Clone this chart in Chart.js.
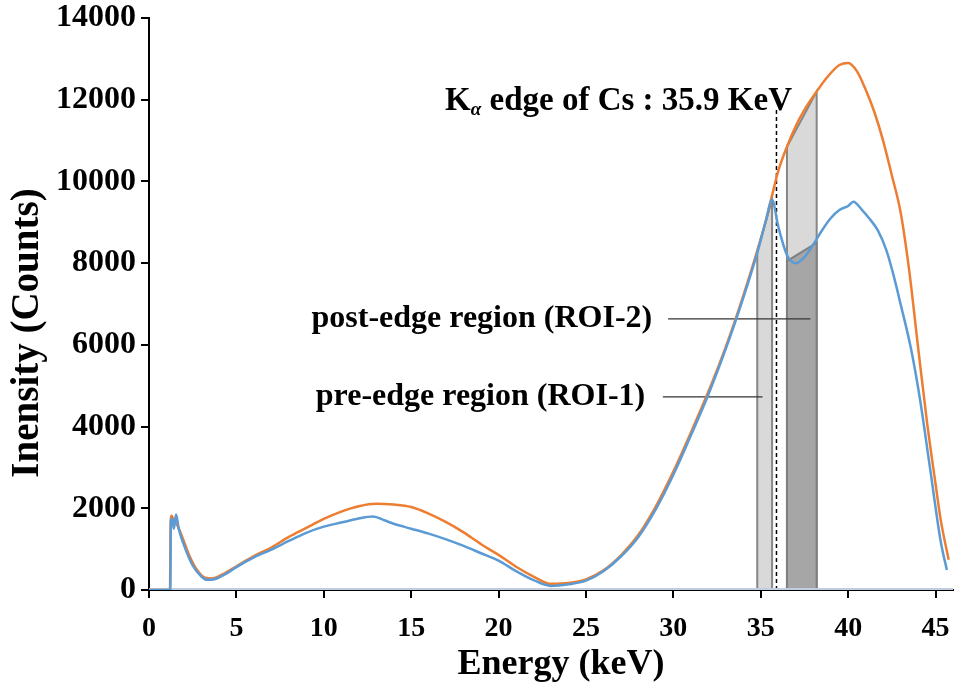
<!DOCTYPE html>
<html>
<head>
<meta charset="utf-8">
<script src="https://cdn.jsdelivr.net/npm/chart.js@4.4.1/dist/chart.umd.min.js"></script>
<style>
  body { margin: 0; background: #fff; }
  canvas { display: block; }
</style>
</head>
<body>
<canvas id="spectrum" width="955" height="690"></canvas>
<script>
// spectrum (energy in keV, intensity in counts)
const energyOrange = [0, 1.2, 1.24, 1.3, 1.4, 1.6, 1.9, 2.3, 2.7, 3.2, 3.6, 4.2, 5, 6, 7, 8, 9, 10, 11, 12,
  13, 14, 15, 16, 17, 18, 19, 20, 21, 22, 23, 24, 25, 26, 27, 28, 29, 30, 31, 32,
  33, 34, 34.8, 35.3, 35.7, 36.0, 36.5, 37.0, 37.5, 38.2, 38.8, 39.5, 40.0, 40.5, 41.0, 41.5, 42.0, 42.5, 43.0, 43.5,
  44.0, 44.5, 45.0, 45.3, 45.75];
const countsOrange = [0, 0, 1650, 1820, 1720, 1600, 1300, 850, 520, 300, 280, 380, 580, 830, 1040, 1300, 1520, 1740, 1920, 2050,
  2110, 2090, 2030, 1870, 1660, 1410, 1120, 860, 570, 330, 150, 170, 260, 480, 850, 1350, 2050, 2900, 3850, 4850,
  5950, 7200, 8300, 9050, 9750, 10250, 10850, 11350, 11750, 12200, 12550, 12850, 12900, 12700, 12250, 11700, 11000, 10150, 9250, 7800,
  5950, 4150, 2600, 1710, 740];

const energyBlue = [0, 1.22, 1.25, 1.32, 1.42, 1.55, 1.7, 2.0, 2.5, 3.0, 3.3, 3.8, 4.5, 5, 6, 7, 8, 9, 10, 11,
  12, 12.8, 13.5, 14, 15, 16, 17, 18, 19, 20, 21, 22, 23, 24, 25, 26, 27, 28, 29, 30,
  31, 32, 33, 34, 34.8, 35.3, 35.65, 36.0, 36.5, 37.0, 37.5, 38.0, 38.5, 39.0, 39.5, 40.0, 40.3, 40.8, 41.2, 41.7,
  42.2, 42.6, 43.0, 43.6, 44.1, 44.7, 45.3, 45.65];
const countsBlue = [0, 0, 1700, 1750, 1500, 1850, 1500, 1100, 600, 330, 250, 270, 420, 560, 800, 990, 1200, 1400, 1550, 1650,
  1750, 1800, 1700, 1620, 1500, 1380, 1240, 1080, 900, 720, 460, 240, 100, 140, 230, 460, 820, 1300, 1980, 2820,
  3780, 4780, 5900, 7150, 8250, 9050, 9550, 8900, 8200, 8000, 8150, 8450, 8800, 9100, 9300, 9400, 9500, 9300, 9100, 8800,
  8300, 7700, 7000, 5900, 4700, 2940, 1180, 490];

// regions of interest
const roi1Energy = [34.8, 34.8, 35.65, 35.65];
const roi1Counts = [0, 8300, 9550, 0];
const roi2Energy = [36.5, 36.5, 38.2, 38.2];
const roi2Counts = [0, 10850, 12200, 0];
const roi2LowCounts = [0, 8050, 8500, 0];

// K-alpha edge marker and leader lines
const edgeEnergy = [35.9, 35.9];
const edgeCounts = [0, 11750];
const postLeaderEnergy = [29.7, 37.84];
const postLeaderCounts = [6634, 6634];
const preLeaderEnergy = [29.4, 35.1];
const preLeaderCounts = [4725, 4725];

const xTicks = [0, 5, 10, 15, 20, 25, 30, 35, 40, 45];

function pts(xs, ys) {
  return xs.map((x, i) => ({ x: x, y: ys[i] }));
}

const serif = '"Liberation Serif", "Times New Roman", serif';

const labelsPlugin = {
  id: 'labels',
  afterDraw(chart) {
    const ctx = chart.ctx;
    const xs = chart.scales.x, ys = chart.scales.y;
    ctx.save();
    ctx.fillStyle = '#000';
    ctx.textBaseline = 'middle';
    ctx.textAlign = 'right';
    ctx.font = 'bold 32px ' + serif;
    ctx.fillText('post-edge region (ROI-2)', xs.getPixelForValue(28.79), ys.getPixelForValue(6634));
    ctx.fillText('pre-edge region (ROI-1)', xs.getPixelForValue(28.39), ys.getPixelForValue(4725));

    // K alpha edge label
    ctx.textAlign = 'left';
    ctx.textBaseline = 'alphabetic';
    let x = xs.getPixelForValue(16.94);
    const y = ys.getPixelForValue(11750);
    ctx.font = 'bold 33px ' + serif;
    ctx.fillText('K', x, y);
    x += ctx.measureText('K').width;
    ctx.font = 'italic bold 19px ' + serif;
    ctx.fillText('\u03b1', x, y + 5);
    x += ctx.measureText('\u03b1').width;
    ctx.font = 'bold 33px ' + serif;
    ctx.fillText(' edge of Cs : 35.9 KeV', x, y);

    // axis titles
    ctx.textAlign = 'center';
    ctx.textBaseline = 'middle';
    ctx.font = 'bold 36px ' + serif;
    ctx.fillText('Energy (keV)', 561, 665);
    ctx.translate(28, 333);
    ctx.rotate(-Math.PI / 2);
    ctx.font = 'bold 39px ' + serif;
    ctx.fillText('Inensity (Counts)', 0, 0);
    ctx.restore();
  }
};

new Chart(document.getElementById('spectrum'), {
  type: 'line',
  data: {
    datasets: [
      { data: pts(energyBlue, countsBlue), borderColor: '#5B9BD5', borderWidth: 2.5,
        pointRadius: 0, cubicInterpolationMode: 'monotone', order: 1 },
      { data: pts(energyOrange, countsOrange), borderColor: '#ED7D31', borderWidth: 2.5,
        pointRadius: 0, cubicInterpolationMode: 'monotone', order: 2 },
      { data: pts([0, 46], [0, 0]), borderColor: '#c3cddd', borderWidth: 4,
        pointRadius: 0, order: 3 },
      { data: pts(edgeEnergy, edgeCounts), borderColor: '#000', borderWidth: 1.5,
        borderDash: [4, 3], pointRadius: 0, order: 4 },
      { data: pts(postLeaderEnergy, postLeaderCounts), borderColor: '#333', borderWidth: 1.2,
        pointRadius: 0, order: 4 },
      { data: pts(preLeaderEnergy, preLeaderCounts), borderColor: '#333', borderWidth: 1.2,
        pointRadius: 0, order: 4 },
      { data: pts(roi2Energy, roi2LowCounts), borderColor: '#7f7f7f', backgroundColor: '#a6a6a6',
        borderWidth: 2, fill: 'origin', tension: 0, pointRadius: 0, order: 5 },
      { data: pts(roi2Energy, roi2Counts), borderColor: '#868686', backgroundColor: '#d9d9d9',
        borderWidth: 2, fill: 'origin', tension: 0, pointRadius: 0, order: 6 },
      { data: pts(roi1Energy, roi1Counts), borderColor: '#868686', backgroundColor: '#d9d9d9',
        borderWidth: 2, fill: 'origin', tension: 0, pointRadius: 0, order: 6 }
    ]
  },
  options: {
    responsive: false,
    animation: false,
    layout: { padding: { left: 0, right: 2, top: 18, bottom: 0 } },
    plugins: { legend: { display: false }, tooltip: { enabled: false } },
    scales: {
      x: {
        type: 'linear', min: 0, max: 46, z: 1,
        afterBuildTicks(s) { s.ticks = xTicks.map(v => ({ value: v })); },
        afterFit(s) { s.height = 100; s.paddingLeft = 0; s.paddingRight = 0; },
        ticks: { color: '#000', padding: 14, maxRotation: 0, autoSkip: false,
          font: { family: serif, size: 28, weight: 'bold' } },
        grid: { drawOnChartArea: false, tickLength: 8, color: '#000', lineWidth: 2 },
        border: { color: '#000', width: 2 },
        title: { display: false }
      },
      y: {
        min: 0, max: 14000, z: 1,
        afterFit(s) { s.width = 149; s.paddingTop = 0; s.paddingBottom = 0; },
        ticks: { stepSize: 2000, color: '#000', padding: 5,
          callback: v => String(v),
          font: { family: serif, size: 32, weight: 'bold' } },
        grid: { drawOnChartArea: false, tickLength: 8, color: '#000', lineWidth: 2 },
        border: { color: '#000', width: 2 },
        title: { display: false }
      }
    }
  },
  plugins: [labelsPlugin]
});
</script>
</body>
</html>
